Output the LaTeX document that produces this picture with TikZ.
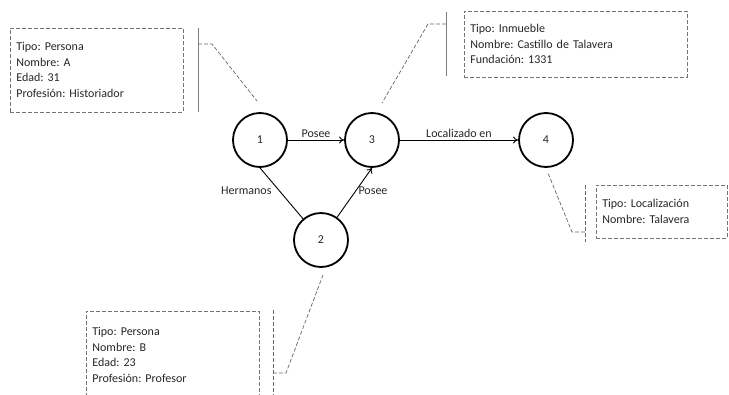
\documentclass[tikz,border=0pt]{standalone}
\usepackage{fontspec}
\setmainfont{Carlito}
\usetikzlibrary{arrows.meta}

\tikzset{
    entity/.style={circle, draw, line width=1.8pt, minimum size=54pt, inner sep=0pt},
    relation/.style={line width=0.9pt, -{To[length=5pt,width=7pt]}},
    infobox/.style={draw=black!55, dashed, dash pattern=on 4pt off 2pt, line width=0.7pt,
        align=left, inner sep=6pt, anchor=west},
    bracket/.style={draw=black!50, line width=1pt},
    leader/.style={draw=black!60, dash pattern=on 4pt off 2pt, line width=0.7pt}
}

\begin{document}
\frenchspacing
\begin{tikzpicture}[x=1pt, y=-1pt, font=\fontsize{12}{15.5}\selectfont, text=black!85]
    \useasboundingbox (0,0) rectangle (729,394);
    \clip (0,0) rectangle (729,394);

    % Nodes
    \node[entity] (One) at (260,140) {1};
    \node[entity] (Three) at (372,140) {3};
    \node[entity] (Two) at (321,240) {2};
    \node[entity] (Four) at (546,140) {4};

    % Arrows
    \draw[relation] (One) -- node[above=-1pt] {Posee} (Three);
    \draw[relation] (Three) -- node[above=-1pt] {Localizado en} (Four);
    \draw[relation] (Two) -- (Three.south);
    \draw[line width=0.9pt] (One.south) -- (Two);
    \node[anchor=east] (HermanosLbl) at (275,191) {Hermanos};
    \node[anchor=west] (PoseeLbl) at (355,191) {Posee};

    % Info boxes
    \node[infobox, minimum width=173pt, minimum height=84pt, text width=161pt] (InfoOne) at (10,70)
        {Tipo: Persona\\Nombre: A\\Edad: 31\\Profesión: Historiador};
    \node[infobox, minimum width=223pt, minimum height=66pt, text width=211pt] (InfoThree) at (464,44)
        {Tipo: Inmueble\\Nombre: Castillo de Talavera\\Fundación: 1331};
    \node[infobox, minimum width=131pt, minimum height=53pt, text width=119pt] (InfoFour) at (596,211.5)
        {Tipo: Localización\\Nombre: Talavera};
    \node[infobox, minimum width=173pt, minimum height=88pt, text width=161pt] (InfoTwo) at (86,355)
        {Tipo: Persona\\Nombre: B\\Edad: 23\\Profesión:\ Profesor};

    % Brackets and leaders
    \coordinate (BrOneTop) at (198,28);
    \coordinate (BrOneBot) at (198,112);
    \coordinate (KnOne) at (212,44);
    \coordinate (TipOne) at (257,101);
    \draw[bracket] (BrOneTop) -- (BrOneBot);
    \draw[leader] (198,44) -- (KnOne) -- (TipOne);

    \coordinate (BrThreeTop) at (446,12);
    \coordinate (BrThreeBot) at (446,76);
    \coordinate (KnThree) at (428,24);
    \coordinate (TipThree) at (382,103);
    \draw[bracket] (BrThreeTop) -- (BrThreeBot);
    \draw[leader] (446,24) -- (KnThree) -- (TipThree);

    \coordinate (BrFourTop) at (585,185);
    \coordinate (BrFourBot) at (585,242);
    \coordinate (KnFour) at (572,232);
    \coordinate (TipFour) at (548,173);
    \draw[leader] (BrFourTop) -- (BrFourBot);
    \draw[leader] (585,232) -- (KnFour) -- (TipFour);

    \coordinate (BrTwoTop) at (273,310);
    \coordinate (BrTwoBot) at (273,400);
    \coordinate (KnTwo) at (286,373);
    \coordinate (TipTwo) at (323,275);
    \draw[leader] (BrTwoTop) -- (BrTwoBot);
    \draw[leader] (273,373) -- (KnTwo) -- (TipTwo);
\end{tikzpicture}
\end{document}
